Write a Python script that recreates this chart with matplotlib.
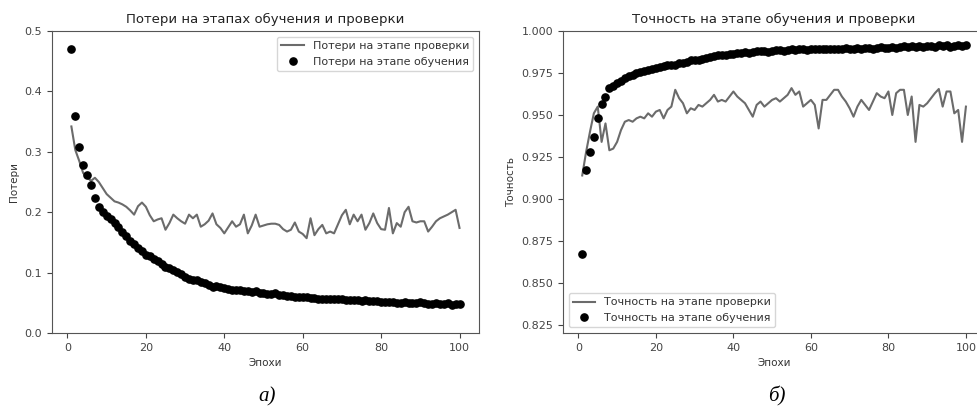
import matplotlib
matplotlib.use('Agg')
import matplotlib.pyplot as plt

epochs = list(range(1, 101))

# потери (loss)
train_loss = [0.470, 0.360, 0.308, 0.279, 0.262, 0.245, 0.224, 0.209, 0.200, 0.194,
              0.188, 0.182, 0.175, 0.167, 0.160, 0.153, 0.147, 0.141, 0.136, 0.130,
              0.127, 0.123, 0.119, 0.115, 0.110, 0.107, 0.104, 0.101, 0.097, 0.092,
              0.090, 0.088, 0.087, 0.084, 0.082, 0.080, 0.077, 0.078, 0.076, 0.074,
              0.073, 0.072, 0.071, 0.072, 0.070, 0.069, 0.068, 0.069, 0.066, 0.066,
              0.065, 0.064, 0.066, 0.063, 0.063, 0.062, 0.062, 0.060, 0.059, 0.060,
              0.059, 0.058, 0.058, 0.057, 0.057, 0.057, 0.056, 0.057, 0.056, 0.056,
              0.055, 0.055, 0.054, 0.055, 0.053, 0.054, 0.053, 0.053, 0.053, 0.052,
              0.052, 0.052, 0.051, 0.050, 0.050, 0.051, 0.050, 0.049, 0.050, 0.051,
              0.049, 0.048, 0.048, 0.049, 0.048, 0.048, 0.049, 0.047, 0.048, 0.048]
val_loss = [0.342, 0.303, 0.285, 0.265, 0.258, 0.252, 0.257, 0.250, 0.240, 0.230,
            0.224, 0.218, 0.216, 0.213, 0.209, 0.203, 0.196, 0.210, 0.216, 0.209,
            0.195, 0.185, 0.188, 0.190, 0.171, 0.182, 0.196, 0.190, 0.185, 0.181,
            0.196, 0.190, 0.196, 0.176, 0.180, 0.186, 0.198, 0.180, 0.174, 0.165,
            0.175, 0.185, 0.176, 0.180, 0.196, 0.165, 0.178, 0.196, 0.176, 0.178,
            0.180, 0.181, 0.181, 0.179, 0.172, 0.168, 0.171, 0.183, 0.168, 0.164,
            0.157, 0.190, 0.162, 0.172, 0.179, 0.165, 0.168, 0.165, 0.180, 0.195,
            0.204, 0.180, 0.196, 0.185, 0.196, 0.171, 0.182, 0.198, 0.182, 0.172,
            0.171, 0.207, 0.165, 0.182, 0.176, 0.200, 0.209, 0.185, 0.183, 0.185,
            0.185, 0.168, 0.176, 0.185, 0.190, 0.193, 0.196, 0.200, 0.204, 0.174]

# точность (accuracy)
train_acc = [0.8675, 0.917, 0.928, 0.937, 0.948, 0.9565, 0.961, 0.966, 0.967, 0.969,
             0.9705, 0.972, 0.973, 0.974, 0.975, 0.9755, 0.976, 0.977, 0.9775, 0.978,
             0.9785, 0.979, 0.9795, 0.9795, 0.980, 0.981, 0.981, 0.9815, 0.9825, 0.9825,
             0.983, 0.9835, 0.984, 0.9845, 0.985, 0.9855, 0.986, 0.986, 0.9865, 0.9865,
             0.987, 0.987, 0.9875, 0.987, 0.9875, 0.988, 0.988, 0.988, 0.9875, 0.988,
             0.9885, 0.9885, 0.988, 0.9885, 0.989, 0.9885, 0.989, 0.989, 0.9885, 0.989,
             0.989, 0.9895, 0.989, 0.9895, 0.9895, 0.989, 0.9895, 0.9895, 0.990, 0.9895,
             0.9895, 0.990, 0.9895, 0.990, 0.990, 0.9895, 0.990, 0.9905, 0.990, 0.990,
             0.9905, 0.990, 0.9905, 0.991, 0.9905, 0.991, 0.9905, 0.991, 0.9905, 0.991,
             0.991, 0.9905, 0.9915, 0.991, 0.9915, 0.9905, 0.991, 0.9915, 0.991, 0.9915]
val_acc = [0.914, 0.928, 0.940, 0.951, 0.955, 0.934, 0.945, 0.929, 0.930, 0.934,
           0.941, 0.946, 0.947, 0.946, 0.948, 0.949, 0.948, 0.951, 0.949, 0.952,
           0.953, 0.948, 0.953, 0.955, 0.965, 0.960, 0.957, 0.951, 0.954, 0.953,
           0.956, 0.955, 0.957, 0.959, 0.962, 0.958, 0.959, 0.958, 0.961, 0.964,
           0.961, 0.959, 0.957, 0.953, 0.949, 0.956, 0.958, 0.955, 0.957, 0.959,
           0.960, 0.958, 0.960, 0.962, 0.966, 0.962, 0.964, 0.955, 0.957, 0.959,
           0.956, 0.942, 0.959, 0.959, 0.962, 0.965, 0.965, 0.961, 0.958, 0.954,
           0.949, 0.955, 0.959, 0.956, 0.953, 0.958, 0.963, 0.961, 0.960, 0.964,
           0.950, 0.963, 0.965, 0.965, 0.950, 0.961, 0.934, 0.956, 0.955, 0.957,
           0.960, 0.963, 0.9655, 0.955, 0.964, 0.964, 0.951, 0.953, 0.934, 0.955]

line_color = '#6b6b6b'
spine_color = '#555555'

fig = plt.figure(figsize=(9.77, 4.12), dpi=100)
ax1 = fig.add_axes([0.0532, 0.1917, 0.437, 0.733])
ax2 = fig.add_axes([0.5763, 0.1917, 0.432, 0.733])

ax1.plot(epochs, val_loss, color=line_color, lw=1.5, label='Потери на этапе проверки')
ax1.plot(epochs, train_loss, 'o', color='black', ms=5.2, label='Потери на этапе обучения')
ax1.set_ylim(0.0, 0.5)
ax1.set_yticks([0.0, 0.1, 0.2, 0.3, 0.4, 0.5])
ax1.set_title('Потери на этапах обучения и проверки', fontsize=9.5, color='#222222')
ax1.set_xlabel('Эпохи', fontsize=7.5, color='#333333')
ax1.set_ylabel('Потери', fontsize=7.5, color='#333333')
ax1.legend(loc='upper right', fontsize=8, labelcolor='#333333')

ax2.plot(epochs, val_acc, color=line_color, lw=1.5, label='Точность на этапе проверки')
ax2.plot(epochs, train_acc, 'o', color='black', ms=5.2, label='Точность на этапе обучения')
ax2.set_ylim(0.8202, 1.0)
ax2.set_yticks([0.825, 0.850, 0.875, 0.900, 0.925, 0.950, 0.975, 1.000])
ax2.set_title('Точность на этапе обучения и проверки', fontsize=9.5, color='#222222')
ax2.set_xlabel('Эпохи', fontsize=7.5, color='#333333')
ax2.set_ylabel('Точность', fontsize=7.5, color='#333333')
ax2.legend(loc='lower left', fontsize=8, labelcolor='#333333')

for ax in (ax1, ax2):
    ax.set_xticks([0, 20, 40, 60, 80, 100])
    ax.tick_params(labelsize=8, colors='#444444', length=3.5)
    for s in ax.spines.values():
        s.set_color(spine_color)

fig.text(0.273, 0.025, 'а)', fontsize=15, style='italic', family='Liberation Serif', ha='center')
fig.text(0.795, 0.025, 'б)', fontsize=15, style='italic', family='Liberation Serif', ha='center')

fig.savefig('out.png', dpi=100)
